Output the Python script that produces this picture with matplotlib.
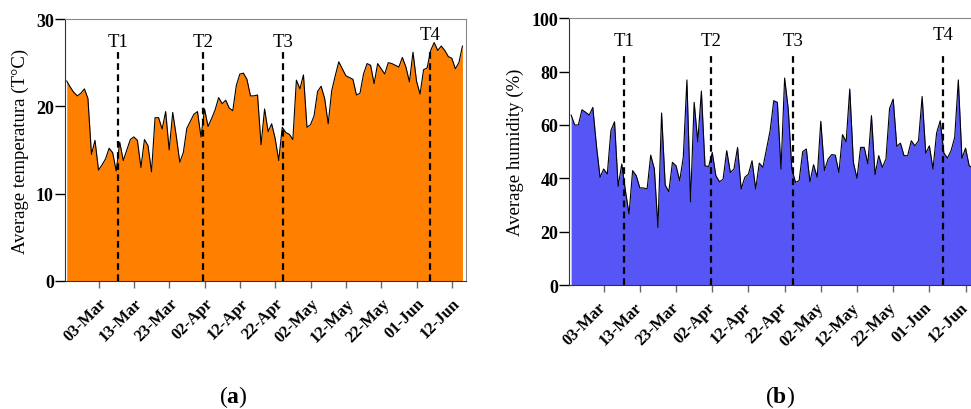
import numpy as np
import matplotlib
matplotlib.use("Agg")
import matplotlib.pyplot as plt
import matplotlib.transforms as mtransforms

plt.rcParams['font.family'] = ['Liberation Serif', 'DejaVu Serif']
plt.rcParams['mathtext.fontset'] = 'custom'
plt.rcParams['mathtext.rm'] = 'Liberation Serif'
plt.rcParams['mathtext.bf'] = 'Liberation Serif:bold'

# daily values, day 0 = 22-Feb
temperature = [22.9, 22.2, 21.6, 21.2, 21.5, 22.0, 20.9, 14.5, 16.1, 12.7,
               13.3, 14.0, 15.2, 14.7, 12.6, 15.9, 13.8, 15.0, 16.2, 16.5,
               16.1, 13.0, 16.2, 15.5, 12.5, 18.7, 18.7, 17.4, 19.4, 15.0,
               19.3, 16.6, 13.6, 14.7, 17.5, 18.3, 19.1, 19.4, 16.5, 19.7,
               17.7, 18.6, 19.6, 21.0, 20.3, 20.7, 19.8, 19.5, 22.4, 23.7,
               23.8, 23.1, 21.2, 21.2, 21.3, 15.6, 19.7, 17.1, 18.0, 16.3,
               13.8, 17.6, 17.0, 16.8, 16.2, 23.0, 22.0, 23.6, 17.6, 17.9,
               18.9, 21.7, 22.3, 20.9, 18.0, 21.8, 23.5, 25.1, 24.3, 23.5,
               23.3, 23.1, 21.3, 21.5, 23.7, 24.9, 24.7, 22.6, 24.9, 24.3,
               23.7, 25.0, 24.9, 24.7, 24.5, 25.6, 24.5, 22.8, 26.2, 22.9,
               21.4, 24.2, 24.4, 26.4, 27.3, 26.4, 26.9, 26.4, 25.7, 25.5,
               24.3, 25.0, 26.9]

humidity = [63.7, 60.0, 60.0, 65.7, 64.8, 63.7, 66.6, 52.2, 40.4, 43.5,
            41.6, 57.9, 61.2, 37.0, 45.4, 35.4, 26.6, 42.9, 41.0, 36.4,
            36.4, 36.0, 48.7, 43.5, 21.6, 64.5, 37.5, 35.0, 46.0, 44.7,
            39.1, 47.9, 76.9, 31.2, 68.5, 53.7, 72.7, 44.7, 44.4, 49.7,
            41.0, 38.7, 39.7, 50.4, 42.2, 43.5, 51.6, 36.0, 40.4, 41.6,
            46.6, 36.0, 45.7, 44.1, 51.0, 57.9, 69.1, 68.5, 43.5, 77.6,
            66.0, 43.5, 38.5, 39.1, 50.0, 51.0, 38.7, 45.1, 40.4, 61.4,
            42.9, 47.2, 48.9, 48.7, 42.2, 56.4, 53.7, 73.5, 46.0, 40.0,
            51.6, 51.6, 45.4, 63.5, 41.4, 48.5, 44.1, 47.2, 66.2, 69.7,
            52.0, 53.2, 48.5, 48.5, 54.1, 52.2, 54.1, 70.7, 49.4, 52.2,
            43.5, 57.0, 61.6, 49.5, 47.6, 50.4, 55.4, 76.9, 47.5, 51.3,
            44.7, 44.0]

tick_days = [9, 19, 29, 39, 49, 59, 69, 79, 89, 99, 109]
tick_labels = ['03-Mar', '13-Mar', '23-Mar', '02-Apr', '12-Apr', '22-Apr',
               '02-May', '12-May', '22-May', '01-Jun', '12-Jun']

t_days = [14.5, 38.6, 61.2, 102.9]
t_names = ['T1', 'T2', 'T3', 'T4']

fig = plt.figure(figsize=(9.71, 4.10), dpi=100)
ax1 = fig.add_axes([0.0669, 0.3122, 0.4130, 0.6390])
ax2 = fig.add_axes([0.5863, 0.3024, 0.4230, 0.6505])


def draw_panel(ax, values, color, ymax, ystep, ylabel, shift=0.0):
    days = np.arange(len(values))
    ax.fill_between(days, values, 0, color=color, lw=0)
    ax.plot(days, values, color='black', lw=0.8)
    ax.set_xlim(-0.5, 113)
    ax.set_ylim(0, ymax)
    ax.set_yticks(np.arange(0, ymax + 1, ystep))
    ax.set_xticks(tick_days)
    ax.tick_params(axis='y', direction='out', length=7, width=1, pad=1)
    ax.tick_params(axis='x', direction='out', length=5, width=1,
                   color='#666666', pad=5)
    ax.set_xticklabels(tick_labels, rotation=45, ha='right',
                       rotation_mode='anchor', fontsize=12, fontweight='bold')
    if shift:
        off = mtransforms.ScaledTranslation(shift / 72, 0, fig.dpi_scale_trans)
        for lbl in ax.get_xticklabels():
            lbl.set_transform(lbl.get_transform() + off)
    for lbl in ax.get_yticklabels():
        lbl.set_fontweight('bold')
        lbl.set_fontsize(13)
    ax.set_ylabel(ylabel, fontsize=13.5, labelpad=5)
    for s in ['left', 'bottom']:
        ax.spines[s].set_color('#333333')
    for s in ['top', 'right']:
        ax.spines[s].set_color('#888888')
    for d, name in zip(t_days, t_names):
        ax.plot([d, d], [0, ymax * 0.875], color='black', lw=1.6,
                ls=(0, (3, 2)))
        yy = 0.94 if name == 'T4' else 0.915
        ax.text(d, ymax * yy, name, ha='center', va='center', fontsize=13.5)


draw_panel(ax1, temperature, '#FF8000', 30, 10, 'Average temperatura (T°C)')
draw_panel(ax2, humidity, '#5656F7', 100, 20, 'Average humidity (%)', shift=-4)

fig.text(0.240, 0.032, r'$\mathrm{(}\mathbf{a}\mathrm{)}$', ha='center',
         va='center', fontsize=17)
fig.text(0.803, 0.032, r'$\mathrm{(}\mathbf{b}\mathrm{)}$', ha='center',
         va='center', fontsize=17)

fig.savefig('out.png', dpi=100)
